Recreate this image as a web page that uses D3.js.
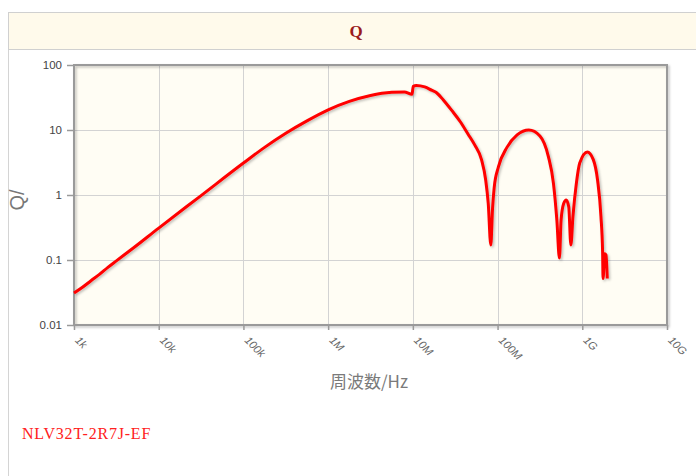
<!DOCTYPE html>
<html>
<head>
<meta charset="utf-8">
<script src="https://cdn.jsdelivr.net/npm/d3@7"></script>
<style>
  html, body { margin: 0; padding: 0; background: #fff; }
  svg { display: block; }
</style>
</head>
<body>
<div id="chart"></div>
<script>
(function () {
  // ---------- Data ----------
  const freqHz = [
    1.0e3, 1.259e3, 1.585e3, 1.995e3, 2.512e3, 3.162e3, 5.012e3,
    1.0e4, 3.162e4, 1.0e5, 1.778e5, 3.162e5, 5.623e5,
    1.0e6, 1.778e6, 3.162e6, 5.623e6, 7.943e6, 9.77e6,
    1.012e7, 1.096e7, 1.38e7, 1.66e7, 1.905e7, 2.29e7, 2.88e7, 3.63e7,
    4.47e7, 5.37e7, 6.46e7, 7.24e7, 7.76e7, 8.32e7, 8.71e7, 9.12e7,
    1.023e8, 1.29e8, 1.70e8, 2.34e8, 3.16e8, 3.98e8, 4.57e8, 5.01e8,
    5.37e8, 5.62e8, 6.03e8, 6.46e8, 6.92e8, 7.33e8, 7.76e8, 8.51e8, 9.33e8,
    1.148e9, 1.349e9, 1.514e9, 1.66e9, 1.738e9, 1.758e9, 1.841e9, 1.905e9, 1.972e9
  ];
  const qValues = [
    0.031, 0.038, 0.048, 0.060, 0.077, 0.097, 0.153,
    0.31, 0.98, 3.1, 5.4, 8.9, 13.8,
    20.4, 27.5, 34, 38, 38.5, 35.5,
    47, 48.5, 46, 41, 37.5, 29, 20, 13.4,
    8.7, 5.9, 3.5, 1.7, 0.74, 0.17, 0.6, 1.3,
    2.7, 5.4, 8.4, 10, 8.1, 3.9, 1.5, 0.41,
    0.107, 0.41, 0.74, 0.84, 0.66, 0.17, 0.47, 1.5, 3.1,
    4.6, 3.5, 1.7, 0.47, 0.13, 0.052, 0.125, 0.12, 0.052
  ];
  const xTicks = [1e3, 1e4, 1e5, 1e6, 1e7, 1e8, 1e9, 1e10];
  const xTickLabels = ['1k', '10k', '100k', '1M', '10M', '100M', '1G', '10G'];
  const yTicks = [0.01, 0.1, 1, 10, 100];
  const yTickLabels = ['0.01', '0.1', '1', '10', '100'];

  const W = 696, H = 476;
  const plot = { left: 74, top: 65, right: 667, bottom: 325 };

  const svg = d3.select('#chart').append('svg')
    .attr('width', W).attr('height', H);

  const defs = svg.append('defs');
  defs.append('filter').attr('id', 'shadow')
    .attr('x', '-10%').attr('y', '-10%').attr('width', '120%').attr('height', '120%')
    .append('feDropShadow')
    .attr('dx', 1.5).attr('dy', 1.5).attr('stdDeviation', 1)
    .attr('flood-color', '#000').attr('flood-opacity', 0.25);

  // ---------- Panel frame + title ----------
  svg.append('line')
    .attr('x1', 8.5).attr('x2', 8.5).attr('y1', 12).attr('y2', H)
    .attr('stroke', '#d4d4d4').attr('stroke-width', 1);

  svg.append('rect')
    .attr('x', 8.5).attr('y', 12.5).attr('width', W).attr('height', 37)
    .attr('fill', '#fffaeb').attr('stroke', '#d0d0d0').attr('stroke-width', 1);

  svg.append('text')
    .attr('x', 356).attr('y', 37)
    .attr('text-anchor', 'middle')
    .style('font-family', '"Liberation Serif", "DejaVu Serif", serif')
    .style('font-weight', 'bold')
    .style('font-size', '17px')
    .attr('fill', '#9b1c1c')
    .text('Q');

  // ---------- Scales ----------
  const x = d3.scaleLog().domain([1e3, 1e10]).range([plot.left, plot.right]);
  const y = d3.scaleLog().domain([0.01, 100]).range([plot.bottom, plot.top]);

  // plot background
  svg.append('rect')
    .attr('x', plot.left).attr('y', plot.top)
    .attr('width', plot.right - plot.left).attr('height', plot.bottom - plot.top)
    .attr('fill', '#fffdf4');

  // grid
  const grid = svg.append('g').attr('stroke', '#d3d3d3').attr('stroke-width', 1);
  grid.selectAll('line.gx').data(xTicks.slice(1, -1)).enter().append('line')
    .attr('x1', d => Math.round(x(d)) + 0.5).attr('x2', d => Math.round(x(d)) + 0.5)
    .attr('y1', plot.top).attr('y2', plot.bottom);
  grid.selectAll('line.gy').data(yTicks.slice(1, -1)).enter().append('line')
    .attr('y1', d => Math.round(y(d)) + 0.5).attr('y2', d => Math.round(y(d)) + 0.5)
    .attr('x1', plot.left).attr('x2', plot.right);

  // border
  svg.append('rect')
    .attr('x', plot.left).attr('y', plot.top)
    .attr('width', plot.right - plot.left).attr('height', plot.bottom - plot.top)
    .attr('fill', 'none').attr('stroke', '#9a9a9a').attr('stroke-width', 2)
    .attr('filter', 'url(#shadow)');

  // ---------- Axes ----------
  const yAxis = svg.append('g')
    .attr('transform', `translate(${plot.left},0)`)
    .call(d3.axisLeft(y).tickValues(yTicks).tickSize(7).tickPadding(5)
      .tickFormat((d, i) => yTickLabels[i]));
  yAxis.select('.domain').remove();
  yAxis.selectAll('.tick line').attr('stroke', '#9a9a9a').attr('stroke-width', 1.5);
  yAxis.selectAll('.tick text')
    .attr('fill', '#444')
    .style('font-family', '"Liberation Sans", Arial, sans-serif')
    .style('font-size', '11.5px');

  const xAxis = svg.append('g')
    .attr('transform', `translate(0,${plot.bottom})`)
    .call(d3.axisBottom(x).tickValues(xTicks).tickSize(5)
      .tickFormat((d, i) => xTickLabels[i]));
  xAxis.select('.domain').remove();
  xAxis.selectAll('.tick line').attr('stroke', '#9a9a9a').attr('stroke-width', 1.5);
  xAxis.selectAll('.tick text')
    .attr('fill', '#666')
    .attr('text-anchor', 'start')
    .attr('dy', null)
    .attr('y', 0)
    .attr('transform', 'translate(0,16) rotate(45)')
    .style('font-family', '"Liberation Sans", Arial, sans-serif')
    .style('font-style', 'italic')
    .style('font-size', '11px');

  // axis titles
  svg.append('text')
    .attr('transform', 'translate(24,200) rotate(-90)')
    .attr('text-anchor', 'middle')
    .attr('fill', '#777')
    .style('font-family', '"Liberation Sans", Arial, sans-serif')
    .style('font-size', '20px')
    .text('Q/');

  svg.append('text')
    .attr('x', 369).attr('y', 388)
    .attr('text-anchor', 'middle')
    .attr('fill', '#7a7a7a')
    .style('font-family', '"Noto Sans CJK JP", "Noto Sans", sans-serif')
    .style('font-size', '17px')
    .text('周波数/Hz');

  // ---------- Curve ----------
  const pts = freqHz.map((f, i) => [f, qValues[i]]);
  const line = d3.line()
    .x(d => x(d[0])).y(d => y(d[1]))
    .curve(d3.curveMonotoneX);

  svg.append('path')
    .datum(pts)
    .attr('d', line)
    .attr('fill', 'none')
    .attr('stroke', '#ff0000')
    .attr('stroke-width', 3)
    .attr('stroke-linejoin', 'round')
    .attr('filter', 'url(#shadow)');

  // ---------- Part number ----------
  svg.append('text')
    .attr('x', 22).attr('y', 439)
    .attr('fill', '#ff2020')
    .style('font-family', '"Liberation Serif", "DejaVu Serif", serif')
    .style('font-size', '16px')
    .style('letter-spacing', '0.8px')
    .text('NLV32T-2R7J-EF');
})();
</script>
</body>
</html>
